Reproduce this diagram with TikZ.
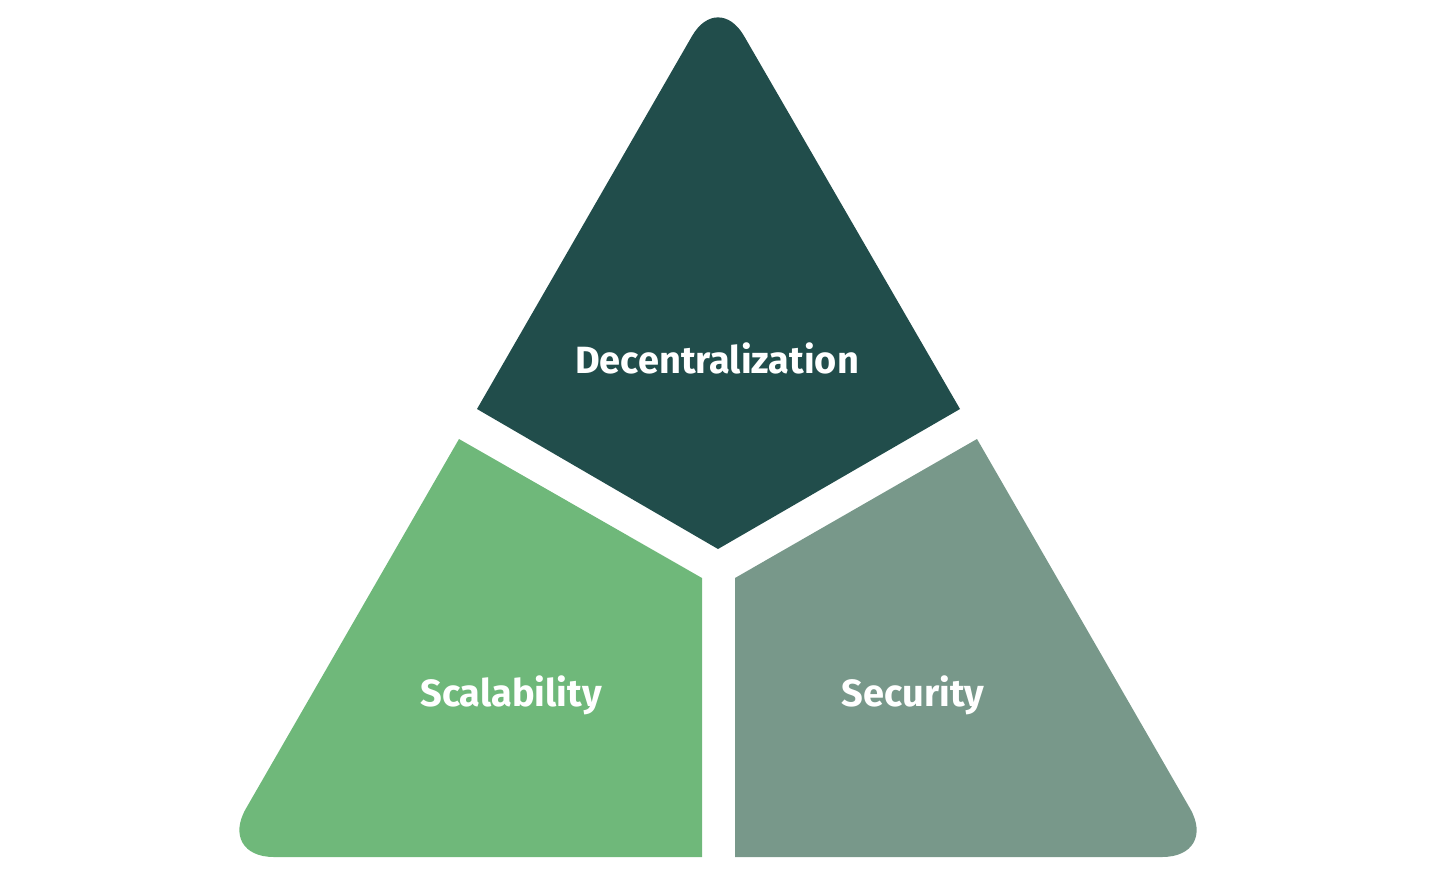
\documentclass[tikz,border=0pt]{standalone}
\usepackage{fontspec}
\setmainfont{Fira Sans}
\definecolor{deep}{HTML}{214D4B}
\definecolor{leaf}{HTML}{6FB87A}
\definecolor{sage}{HTML}{78988A}
\begin{document}
\begin{tikzpicture}[x=0.25mm, y=-0.25mm, main/.style = {text=white, font=\bfseries\fontsize{27}{30}\selectfont}]
    \useasboundingbox (0,0) rectangle (1456,875);
    \fill[deep] (477,409) [rounded corners=13mm] -- (718,-9) [sharp corners] -- (960,409) -- (718,549) -- cycle;
    \fill[leaf] (459,439) -- (702,578) -- (702,857) [rounded corners=14mm] -- (218,857) [sharp corners] -- cycle;
    \fill[sage] (977,439) -- (735,578) -- (735,857) [rounded corners=14mm] -- (1218,857) [sharp corners] -- cycle;
    \node[main] (1) at (717,358) {Decentralization};
    \node[main] (2) at (511,695) {Scalability};
    \node[main] (3) at (913,695) {Security};
\end{tikzpicture}
\end{document}
